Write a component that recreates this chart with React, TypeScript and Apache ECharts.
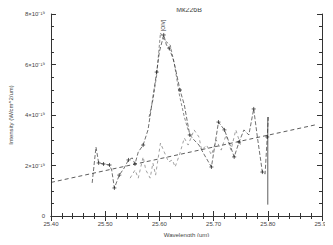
import React, { useEffect, useRef } from "react";
import * as echarts from "echarts";

// values are in units of 1e-19 W/cm^2/um
const TITLE = "Mk226B";
const X_NAME = "Wavelength (um)";
const Y_NAME = "Intensity (W/cm^2/um)";
const X_TICKS = ["25.40", "25.50", "25.60", "25.70", "25.80", "25.90"];
const Y_TICKS = ["0", "2×10⁻¹⁹", "4×10⁻¹⁹", "6×10⁻¹⁹", "8×10⁻¹⁹"];

const dataWave = [
  25.476, 25.483, 25.488, 25.497, 25.508, 25.512, 25.517, 25.526, 25.535, 25.543,
  25.55, 25.555, 25.561, 25.57, 25.579, 25.584, 25.59, 25.595, 25.6, 25.608,
  25.613, 25.618, 25.626, 25.631, 25.638, 25.646, 25.651, 25.656, 25.664, 25.673,
  25.683, 25.696, 25.709, 25.72, 25.729, 25.738, 25.747, 25.756, 25.765, 25.774,
  25.781, 25.79, 25.795, 25.799, 25.801,
];
const dataFlux = [
  1.31, 2.73, 2.1, 2.06, 2.02, 1.82, 1.11, 1.62, 1.9, 2.22,
  2.3, 2.06, 2.53, 2.81, 3.41, 4.12, 4.99, 5.7, 6.5, 7.17,
  6.77, 6.65, 6.18, 5.7, 4.99, 4.4, 3.8, 3.21, 3.01, 2.81,
  2.42, 1.94, 3.72, 3.41, 2.89, 2.34, 2.93, 3.41, 3.21, 4.24,
  3.09, 1.74, 1.66, 3.13, 3.92,
];
// which data points carry a "+" marker
const dataMarked = [
  0, 0, 1, 1, 1, 0, 1, 1, 0, 1,
  0, 1, 0, 1, 0, 0, 0, 1, 0, 1,
  0, 1, 0, 0, 1, 0, 0, 1, 0, 0,
  0, 1, 1, 1, 0, 1, 1, 0, 0, 1,
  0, 1, 0, 1, 0,
];

const modelWave = [25.581, 25.588, 25.595, 25.602, 25.609, 25.62, 25.628, 25.637, 25.646, 25.653];
const modelFlux = [3.92, 4.59, 5.58, 7.25, 6.97, 6.77, 5.98, 4.79, 3.92, 3.41];

const noiseWave = [
  25.546, 25.555, 25.561, 25.57, 25.575, 25.583, 25.588, 25.593, 25.602, 25.609,
  25.617, 25.624, 25.629, 25.637, 25.646, 25.653, 25.664, 25.673, 25.678, 25.687,
  25.696, 25.705, 25.714, 25.723, 25.732, 25.741, 25.75,
];
const noiseFlux = [
  1.5, 1.82, 1.5, 2.34, 1.82, 1.5, 2.1, 1.62, 2.89, 2.53,
  2.14, 2.22, 1.94, 2.42, 3.09, 2.81, 3.41, 3.13, 2.61, 2.81,
  2.42, 3.01, 2.61, 3.21, 2.61, 3.41, 2.81,
];

const contWave = [25.4, 25.89];
const contFlux = [1.33, 3.62];

const errWave = [25.8, 25.8];
const errFlux = [0.45, 3.92];

const LINE_LABEL = "[OIV]";
const LABEL_POS = [25.607, 7.55];

const FONT = "Liberation Sans";
const INK = "#333";
const PLUS = "path://M0,5L10,5M5,0L5,10";

export default function App() {
  const ref = useRef<HTMLDivElement>(null);
  useEffect(() => {
    if (!ref.current) return;
    const chart = echarts.init(ref.current, undefined, { renderer: "svg" });
    const xCommon = {
      type: "value" as const,
      min: 25.4,
      max: 25.9,
      interval: 0.1,
      splitLine: { show: false },
      axisLine: { lineStyle: { color: INK, width: 1 } },
      axisTick: { inside: true, length: 5, lineStyle: { color: INK } },
      minorTick: { show: true, splitNumber: 5, length: 3, lineStyle: { color: INK } },
    };
    const yCommon = {
      type: "value" as const,
      min: 0,
      max: 8,
      interval: 2,
      splitLine: { show: false },
      axisLine: { show: true, lineStyle: { color: INK, width: 1 } },
      axisTick: { show: true, inside: true, length: 5, lineStyle: { color: INK } },
      minorTick: { show: true, splitNumber: 4, length: 3, lineStyle: { color: INK } },
    };
    const dataPoints = dataWave.map((w, i) => ({
      value: [w, dataFlux[i]],
      symbol: dataMarked[i] ? PLUS : "none",
    }));
    chart.setOption({
      animation: false,
      backgroundColor: "#fff",
      title: {
        text: TITLE,
        left: 184,
        textAlign: "center",
        top: 1,
        textStyle: { fontSize: 7, fontWeight: "normal", color: "#444", fontFamily: FONT },
      },
      grid: { left: 46, right: 11, top: 14, bottom: 29 },
      xAxis: [
        {
          ...xCommon,
          position: "bottom",
          name: X_NAME,
          nameLocation: "middle",
          nameGap: 16,
          nameTextStyle: { fontSize: 6, color: "#444", fontFamily: FONT },
          axisLabel: {
            fontSize: 6,
            color: "#444",
            fontFamily: FONT,
            margin: 5,
            showMaxLabel: true,
            formatter: (v: number) => X_TICKS[Math.round((v - 25.4) / 0.1)] ?? "",
          },
        },
        { ...xCommon, position: "top", axisLabel: { show: false } },
      ],
      yAxis: [
        {
          ...yCommon,
          position: "left",
          name: Y_NAME,
          nameLocation: "middle",
          nameGap: 30,
          nameTextStyle: { fontSize: 6, color: "#444", fontFamily: FONT },
          axisLabel: {
            fontSize: 6,
            color: "#444",
            fontFamily: FONT,
            margin: 6,
            formatter: (v: number) => Y_TICKS[Math.round(v / 2)] ?? "",
          },
        },
        { ...yCommon, position: "right", axisLabel: { show: false } },
      ],
      series: [
        {
          type: "line",
          data: contWave.map((w, i) => [w, contFlux[i]]),
          symbol: "none",
          lineStyle: { color: INK, width: 0.8, type: [4, 3] },
          silent: true,
        },
        {
          type: "line",
          data: noiseWave.map((w, i) => [w, noiseFlux[i]]),
          symbol: "none",
          lineStyle: { color: "#777", width: 0.7, type: [3, 3] },
          silent: true,
        },
        {
          type: "line",
          data: modelWave.map((w, i) => [w, modelFlux[i]]),
          symbol: "none",
          lineStyle: { color: "#555", width: 0.7, type: [3, 2] },
          silent: true,
        },
        {
          type: "line",
          data: dataPoints,
          symbolSize: 4,
          showAllSymbol: true,
          itemStyle: { color: "none", borderColor: "#222", borderWidth: 0.7 },
          lineStyle: { color: "#333", width: 0.7, type: [4, 2] },
          silent: true,
          markPoint: {
            symbol: "rect",
            symbolSize: 0,
            data: [{ coord: LABEL_POS }],
            label: {
              show: true,
              formatter: LINE_LABEL,
              rotate: 90,
              fontSize: 5,
              color: "#444",
              fontFamily: FONT,
            },
          },
        },
        {
          type: "line",
          data: errWave.map((w, i) => [w, errFlux[i]]),
          symbol: "none",
          lineStyle: { color: "#333", width: 0.8 },
          silent: true,
        },
      ],
    });
    return () => chart.dispose();
  }, []);
  return <div ref={ref} style={{ width: 333, height: 245, margin: -8 }} />;
}
